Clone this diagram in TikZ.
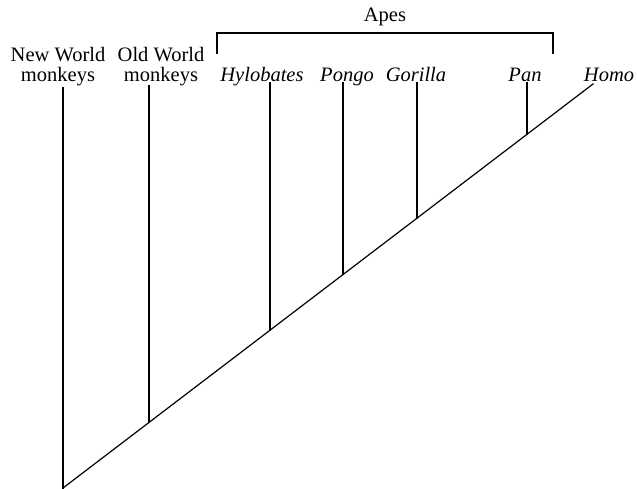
\documentclass[tikz,border=0pt]{standalone}
\usepackage{fontspec}
\setmainfont{Liberation Serif}
\usetikzlibrary{positioning}

\begin{document}
\begin{tikzpicture}[
    x=1pt, y=-1pt,
    branch/.style={line width=1.2pt, line cap=rect},
    taxon/.style={anchor=base, align=center, inner sep=0pt, font=\fontsize{20.5}{20}\selectfont},
    genus/.style={taxon, font=\fontsize{20.5}{20}\selectfont\itshape}
]
    \useasboundingbox (0,0) rectangle (637,489);

    % Labels
    \node[taxon] (nwm) at (58,81.5) {New World\\monkeys};
    \node[taxon] (owm) at (161,81.5) {Old World\\monkeys};
    \node[genus] (hyl) at (262,81.5) {Hylobates};
    \node[genus] (pon) at (347,81.5) {Pongo};
    \node[genus] (gor) at (416,81.5) {Gorilla};
    \node[genus] (pan) at (525,81.5) {Pan};
    \node[genus] (hom) at (609,81.5) {Homo};
    \node[taxon] (apes) at (385,22) {Apes};

    % Branch tips and joins
    \coordinate (root) at (63,488);
    \coordinate (nwmtip) at (63,88);
    \coordinate (owmtip) at (149,86);
    \coordinate (owmjoin) at (149,422.5);
    \coordinate (hyltip) at (270,83);
    \coordinate (hyljoin) at (270,330.3);
    \coordinate (pontip) at (343,83);
    \coordinate (ponjoin) at (343,274.6);
    \coordinate (gortip) at (417,83);
    \coordinate (gorjoin) at (417,218.2);
    \coordinate (pantip) at (527,83);
    \coordinate (panjoin) at (527,134.4);
    \coordinate (homtip) at (593,84);

    % Edges
    \draw[branch] (root) -- (homtip);
    \draw[branch] (root) -- (nwmtip);
    \draw[branch] (owmjoin) -- (owmtip);
    \draw[branch] (hyljoin) -- (hyltip);
    \draw[branch] (ponjoin) -- (pontip);
    \draw[branch] (gorjoin) -- (gortip);
    \draw[branch] (panjoin) -- (pantip);

    % Apes bracket
    \draw[branch, line cap=butt] (217,54) |- (553,33) -- (553,54);
\end{tikzpicture}
\end{document}
